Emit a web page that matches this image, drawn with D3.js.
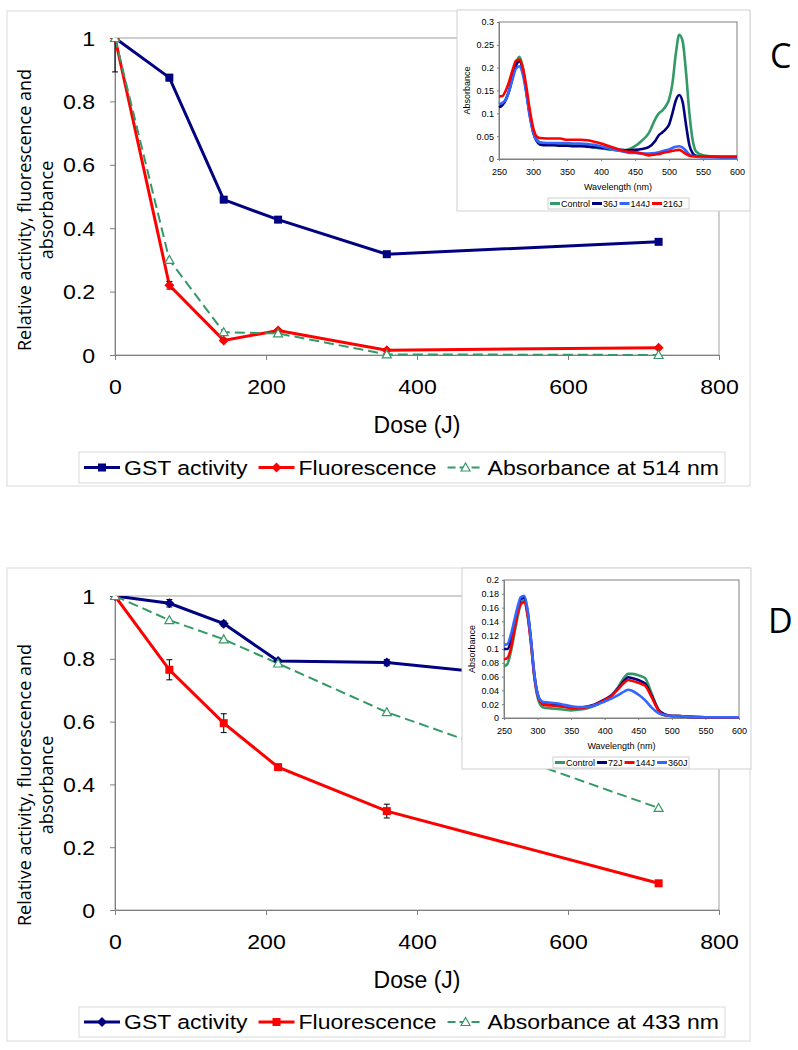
<!DOCTYPE html>
<html>
<head>
<meta charset="utf-8">
<script src="https://cdn.jsdelivr.net/npm/d3@7"></script>
<style>
body { margin: 0; background: #fff; }
svg { display: block; }
</style>
</head>
<body>
<div id="chart"></div>
<script>
// dose points and axis ticks (both panels)
var doses = [0, 72, 144, 216, 360, 720];
var xTicks = [0, 200, 400, 600, 800];
var yTicks = [0, 0.2, 0.4, 0.6, 0.8, 1];

// panel C values
var gstC = [1, 0.875, 0.49, 0.427, 0.318, 0.357];
var gstErrC = [0, 0.01, 0.008, 0.005, 0.005, 0.005];
var fluorC = [1, 0.22, 0.046, 0.077, 0.015, 0.023];
var fluorErrC = [0.107, 0.012, 0.005, 0.005, 0.003, 0.003];
var absC = [1, 0.30, 0.072, 0.068, 0.002, 0.0];
var legendC = ["GST activity", "Fluorescence", "Absorbance at 514 nm"];

// panel D values
var gstD = [1, 0.977, 0.912, 0.793, 0.788, 0.70];
var gstErrD = [0, 0.012, 0.008, 0.005, 0.01, 0];
var fluorD = [1, 0.765, 0.595, 0.455, 0.315, 0.085];
var fluorErrD = [0, 0.032, 0.03, 0.006, 0.022, 0.005];
var absD = [1, 0.923, 0.862, 0.785, 0.63, 0.325];
var legendD = ["GST activity", "Fluorescence", "Absorbance at 433 nm"];

// inset C spectra
var wlC = [250, 255, 260, 265, 270, 275, 280, 285, 290, 295, 300, 305, 310, 320, 330, 340, 350, 360, 370, 380, 390, 400, 410, 420, 430, 440, 450, 460, 470, 480, 485, 490, 495, 500, 505, 510, 515, 520, 525, 530, 535, 540, 550, 560, 580, 600];
var controlC = [.118, .12, .13, .15, .18, .21, .224, .2, .15, .1, .065, .045, .037, .034, .034, .033, .032, .031, .03, .028, .025, .023, .021, .02, .019, .021, .028, .04, .056, .088, .1, .106, .115, .13, .165, .23, .272, .258, .19, .1, .04, .016, .008, .006, .005, .005];
var j36C = [.113, .118, .13, .15, .18, .205, .214, .195, .15, .1, .06, .04, .032, .03, .03, .029, .029, .028, .028, .027, .026, .025, .023, .021, .02, .019, .02, .022, .026, .04, .052, .058, .065, .075, .1, .128, .14, .125, .075, .03, .012, .007, .005, .005, .004, .004];
var j144C = [.12, .123, .13, .15, .175, .198, .203, .185, .145, .095, .06, .042, .036, .035, .035, .035, .035, .034, .034, .033, .031, .028, .024, .02, .017, .014, .013, .012, .012, .013, .015, .017, .019, .021, .024, .027, .028, .025, .018, .01, .007, .005, .004, .004, .004, .004];
var j216C = [.137, .138, .15, .17, .195, .215, .218, .2, .16, .11, .07, .05, .046, .045, .045, .045, .042, .042, .042, .041, .038, .034, .029, .024, .019, .016, .015, .012, .008, .01, .011, .013, .015, .016, .018, .019, .02, .016, .011, .007, .006, .006, .006, .005, .005, .005];
var namesC = ["Control", "36J", "144J", "216J"];

// inset D spectra
var wlD = [250, 255, 260, 265, 270, 275, 280, 285, 290, 295, 300, 305, 310, 320, 330, 340, 350, 360, 370, 380, 390, 400, 410, 420, 430, 435, 440, 450, 460, 470, 480, 490, 500, 510, 520, 550, 580, 600];
var controlD = [.075, .078, .095, .12, .145, .165, .17, .15, .11, .06, .03, .018, .015, .014, .013, .012, .011, .012, .013, .016, .02, .025, .032, .045, .06, .064, .064, .062, .058, .035, .012, .004, .003, .003, .002, .001, .001, .001];
var j72D = [.1, .1, .11, .13, .155, .172, .174, .155, .115, .065, .035, .024, .021, .02, .019, .017, .016, .015, .016, .018, .022, .027, .033, .043, .055, .059, .058, .055, .05, .032, .012, .005, .003, .003, .002, .001, .001, .001];
var j144D = [.085, .087, .1, .125, .15, .165, .168, .15, .11, .062, .033, .022, .019, .018, .017, .016, .014, .014, .015, .017, .021, .026, .032, .042, .052, .055, .054, .051, .047, .03, .011, .004, .003, .003, .002, .001, .001, .001];
var j360D = [.106, .107, .12, .14, .16, .175, .177, .158, .115, .065, .035, .025, .023, .022, .021, .019, .017, .016, .016, .017, .02, .024, .028, .033, .039, .041, .04, .034, .026, .015, .007, .004, .003, .003, .002, .001, .001, .001];
var namesD = ["Control", "72J", "144J", "360J"];

var navy = "#000080", red = "#ff0000", green = "#339966", blue = "#3366ff";
var arial = "'Liberation Sans', Arial, sans-serif";
var sans = "'Open Sans', 'DejaVu Sans', sans-serif";

var svg = d3.select("#chart").append("svg")
    .attr("width", 798)
    .attr("height", 1050);

function stext(g, x, y, str, size, sx, anchor, family) {
    return g.append("text")
        .attr("transform", "translate(" + x + "," + y + ") scale(" + sx + ",1)")
        .attr("text-anchor", anchor)
        .style("font-family", family || arial)
        .style("font-size", size + "px")
        .attr("fill", "#000")
        .text(str);
}

function marker(g, type, color, x, y) {
    if (type == "square") {
        g.append("rect").attr("x", x - 4).attr("y", y - 4).attr("width", 8).attr("height", 8).attr("fill", color);
    } else if (type == "diamond") {
        g.append("path").attr("d", "M" + x + "," + (y - 5) + "L" + (x + 5) + "," + y + "L" + x + "," + (y + 5) + "L" + (x - 5) + "," + y + "Z").attr("fill", color);
    } else {
        g.append("path").attr("d", "M" + x + "," + (y - 4.5) + "L" + (x + 4.5) + "," + (y + 3.5) + "L" + (x - 4.5) + "," + (y + 3.5) + "Z")
            .attr("fill", "#fff").attr("stroke", color).attr("stroke-width", 1.2);
    }
}

function drawPanel(p) {
    var g = svg.append("g");
    g.append("rect").attr("x", p.box[0]).attr("y", p.box[1]).attr("width", p.box[2]).attr("height", p.box[3])
        .attr("fill", "#fff").attr("stroke", "#d9d9d9");

    var x = d3.scaleLinear().domain([0, 800]).range([p.plot[0], p.plot[1]]);
    var y = d3.scaleLinear().domain([0, 1]).range([p.plot[3], p.plot[2]]);

    g.append("rect").attr("x", p.plot[0]).attr("y", p.plot[2])
        .attr("width", p.plot[1] - p.plot[0]).attr("height", p.plot[3] - p.plot[2])
        .attr("fill", "none").attr("stroke", "#a0a0a0");

    var xAxis = g.append("g").attr("transform", "translate(0," + p.plot[3] + ")")
        .call(d3.axisBottom(x).tickValues(xTicks).tickSize(5).tickPadding(19).tickFormat(d3.format("d")));
    var yAxis = g.append("g").attr("transform", "translate(" + p.plot[0] + ",0)")
        .call(d3.axisLeft(y).tickValues(yTicks).tickSize(5).tickPadding(13).tickFormat(d => +d.toFixed(1)));
    [xAxis, yAxis].forEach(a => {
        a.select(".domain").attr("stroke", "#808080");
        a.selectAll(".tick line").attr("stroke", "#808080");
        a.selectAll(".tick text").style("font-family", arial).style("font-size", "21px").attr("fill", "#000");
    });
    xAxis.selectAll(".tick text").attr("transform", "scale(1.1,1)");
    yAxis.selectAll(".tick text").attr("transform", "scale(1.1,1)").attr("dy", "0.34em");

    stext(g, (p.plot[0] + p.plot[1]) / 2, p.plot[3] + 78, "Dose (J)", 23, 1, "middle");

    // two-line y title
    g.append("text").attr("transform", "translate(31," + p.titleY + ") rotate(-90)")
        .attr("text-anchor", "middle").style("font-family", sans).style("font-size", "18px")
        .text("Relative activity, fluorescence and");
    g.append("text").attr("transform", "translate(53," + p.titleY + ") rotate(-90)")
        .attr("text-anchor", "middle").style("font-family", sans).style("font-size", "18px")
        .text("absorbance");

    var clipId = "clip" + p.id;
    g.append("clipPath").attr("id", clipId).append("rect")
        .attr("x", p.plot[0] - 10).attr("y", p.plot[2]).attr("width", p.plot[1] - p.plot[0] + 20).attr("height", p.plot[3] - p.plot[2] + 10);

    var line = d3.line().x((d, i) => x(doses[i])).y(d => y(d));
    var sg = g.append("g").attr("clip-path", "url(#" + clipId + ")");

    p.series.forEach(s => {
        sg.append("path").datum(s.vals).attr("d", line)
            .attr("fill", "none").attr("stroke", s.color)
            .attr("stroke-width", s.dash ? 2 : 3)
            .attr("stroke-dasharray", s.dash ? "10,5" : null);
    });
    p.series.forEach(s => {
        if (!s.err) return;
        s.vals.forEach((v, i) => {
            var e = s.err[i];
            if (!e) return;
            var xx = x(doses[i]);
            sg.append("path")
                .attr("d", "M" + xx + "," + y(v - e) + "V" + y(v + e) + "M" + (xx - 3) + "," + y(v - e) + "h6M" + (xx - 3) + "," + y(v + e) + "h6")
                .attr("stroke", "#000").attr("stroke-width", 1).attr("fill", "none");
        });
    });
    p.series.forEach(s => {
        s.vals.forEach((v, i) => marker(sg, s.marker, s.color, x(doses[i]), y(v)));
    });

    // legend
    var lb = p.legend;
    g.append("rect").attr("x", lb[0]).attr("y", lb[1]).attr("width", lb[2]).attr("height", lb[3])
        .attr("fill", "#fff").attr("stroke", "#d9d9d9");
    var lx = lb[0] + 5, ly = lb[1] + lb[3] / 2;
    p.series.forEach(s => {
        g.append("line").attr("x1", lx).attr("x2", lx + 36).attr("y1", ly).attr("y2", ly)
            .attr("stroke", s.color).attr("stroke-width", s.dash ? 2 : 3)
            .attr("stroke-dasharray", s.dash ? "8,4" : null);
        marker(g, s.marker, s.color, lx + 18, ly);
        var t = stext(g, lx + 40, ly + 7, s.name, 19.5, 1.18, "start");
        lx += 40 + t.node().getComputedTextLength() * 1.18 + 11;
    });

    stext(g, p.letter[0], p.letter[1], p.id, 34, 1, "start", sans);
    return g;
}

function drawInset(ins) {
    var g = svg.append("g");
    g.append("rect").attr("x", ins.box[0]).attr("y", ins.box[1]).attr("width", ins.box[2] - ins.box[0]).attr("height", ins.box[3] - ins.box[1])
        .attr("fill", "#fff").attr("stroke", "#d0d0d0");
    var x = d3.scaleLinear().domain([250, 600]).range([ins.plot[0], ins.plot[1]]);
    var y = d3.scaleLinear().domain([0, ins.yMax]).range([ins.plot[3], ins.plot[2]]);
    g.append("rect").attr("x", ins.plot[0]).attr("y", ins.plot[2])
        .attr("width", ins.plot[1] - ins.plot[0]).attr("height", ins.plot[3] - ins.plot[2])
        .attr("fill", "none").attr("stroke", "#808080");

    var xa = g.append("g").attr("transform", "translate(0," + ins.plot[3] + ")")
        .call(d3.axisBottom(x).tickValues(d3.range(250, 601, 50)).tickSize(2).tickPadding(8));
    var ya = g.append("g").attr("transform", "translate(" + ins.plot[0] + ",0)")
        .call(d3.axisLeft(y).tickValues(ins.yTicks).tickSize(2).tickPadding(3).tickFormat(d => +d.toFixed(2)));
    [xa, ya].forEach(a => {
        a.select(".domain").attr("stroke", "#808080");
        a.selectAll(".tick line").attr("stroke", "#808080");
        a.selectAll(".tick text").style("font-family", arial).style("font-size", "9px").attr("fill", "#000");
    });
    stext(g, (ins.plot[0] + ins.plot[1]) / 2, ins.plot[3] + 31, "Wavelength (nm)", 9, 1, "middle");
    g.append("text").attr("transform", "translate(" + ins.yLabelX + "," + ((ins.plot[2] + ins.plot[3]) / 2) + ") rotate(-90)")
        .attr("text-anchor", "middle").style("font-family", arial).style("font-size", "9px").text("Absorbance");

    var line = d3.line().curve(d3.curveMonotoneX).x((d, i) => x(ins.wl[i])).y(d => y(d));
    ins.series.forEach(s => {
        g.append("path").datum(s.vals).attr("d", line)
            .attr("fill", "none").attr("stroke", s.color).attr("stroke-width", 2.6)
            .attr("stroke-linejoin", "round");
    });

    var lb = ins.legend;
    g.append("rect").attr("x", lb[0]).attr("y", lb[1]).attr("width", lb[2]).attr("height", lb[3])
        .attr("fill", "#fff").attr("stroke", "#d0d0d0");
    var lx = lb[0] + 2, ly = lb[1] + lb[3] / 2;
    ins.series.forEach(s => {
        g.append("line").attr("x1", lx).attr("x2", lx + 10).attr("y1", ly).attr("y2", ly)
            .attr("stroke", s.color).attr("stroke-width", 3);
        var t = stext(g, lx + 11, ly + 3.3, s.name, 9, 1, "start");
        lx += 11 + t.node().getComputedTextLength() + 2;
    });
}

var panelC = drawPanel({
    id: "C",
    box: [7, 11, 743, 475],
    plot: [115, 719, 38, 355],
    titleY: 210,
    legend: [79, 452, 646, 31],
    letter: [770, 68],
    series: [
        { name: legendC[0], vals: gstC, err: gstErrC, color: navy, marker: "square" },
        { name: legendC[1], vals: fluorC, err: fluorErrC, color: red, marker: "diamond" },
        { name: legendC[2], vals: absC, color: green, marker: "triangle", dash: true }
    ]
});
drawInset({
    box: [457, 10, 750, 211],
    plot: [499, 737, 22, 159],
    yMax: 0.3,
    yTicks: d3.range(0, 0.301, 0.05),
    yLabelX: 470,
    wl: wlC,
    legend: [548, 198, 141, 11],
    series: [
        { name: namesC[0], vals: controlC, color: green },
        { name: namesC[1], vals: j36C, color: navy },
        { name: namesC[2], vals: j144C, color: blue },
        { name: namesC[3], vals: j216C, color: red }
    ]
});

var panelD = drawPanel({
    id: "D",
    box: [7, 568, 743, 473],
    plot: [115, 719, 596, 910],
    titleY: 785,
    legend: [79, 1007, 646, 30],
    letter: [768, 633],
    series: [
        { name: legendD[0], vals: gstD, err: gstErrD, color: navy, marker: "diamond" },
        { name: legendD[1], vals: fluorD, err: fluorErrD, color: red, marker: "square" },
        { name: legendD[2], vals: absD, color: green, marker: "triangle", dash: true }
    ]
});
drawInset({
    box: [462, 568, 751, 769],
    plot: [504, 739, 580, 718],
    yMax: 0.2,
    yTicks: d3.range(0, 0.201, 0.02),
    yLabelX: 475,
    wl: wlD,
    legend: [553, 757, 136, 11],
    series: [
        { name: namesD[0], vals: controlD, color: green },
        { name: namesD[1], vals: j72D, color: navy },
        { name: namesD[2], vals: j144D, color: red },
        { name: namesD[3], vals: j360D, color: blue }
    ]
});
</script>
</body>
</html>
